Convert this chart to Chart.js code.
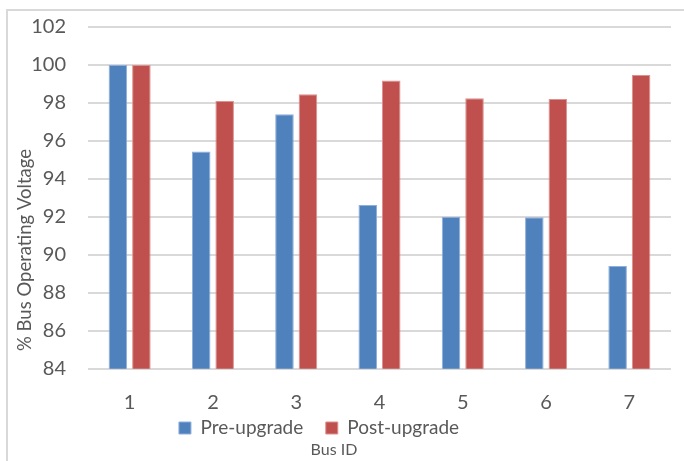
<!DOCTYPE html>
<html>
<head>
<meta charset="utf-8">
<script src="https://cdn.jsdelivr.net/npm/chart.js@4/dist/chart.umd.min.js"></script>
<style>
  html, body { margin: 0; padding: 0; background: #ffffff; overflow: hidden; }
  canvas { display: block; }
</style>
</head>
<body>
<canvas id="chart" width="684" height="461"></canvas>
<script>
// Bus voltage before and after the upgrade, in % of nominal
const busIds = ['1', '2', '3', '4', '5', '6', '7'];
const preUpgrade = [100, 95.45, 97.4, 92.62, 92.01, 91.98, 89.42];
const postUpgrade = [100, 98.1, 98.46, 99.18, 98.25, 98.21, 99.47];
const yAxisMin = 84;
const yAxisMax = 102;
const yAxisStep = 2;

const FONT = 'Lato, "Open Sans", "Liberation Sans", sans-serif';
const TEXT = '#595959';
const GRID = '#d9d9d9';

// Light frame around the whole chart
const frame = {
  id: 'frame',
  beforeDraw(chart) {
    const ctx = chart.ctx;
    ctx.save();
    ctx.strokeStyle = GRID;
    ctx.lineWidth = 2;
    ctx.strokeRect(7, 10, chart.width + 40, chart.height + 40);
    ctx.restore();
  }
};

// Vertical value-axis caption
const yCaption = {
  id: 'yCaption',
  afterDraw(chart) {
    const ctx = chart.ctx;
    ctx.save();
    ctx.translate(25, 250);
    ctx.rotate(-Math.PI / 2);
    ctx.font = '18.5px ' + FONT;
    ctx.fillStyle = TEXT;
    ctx.textAlign = 'center';
    ctx.textBaseline = 'middle';
    ctx.fillText('% Bus Operating Voltage', 0, 0);
    ctx.restore();
  }
};

// Fine placement of the legend row and the category caption under the axis
const bottomPlacement = {
  id: 'bottomPlacement',
  afterLayout(chart) {
    const lg = chart.legend;
    if (lg) {
      const dx = -20;
      lg.left += dx;
      lg.right += dx;
      lg.top = 396;
      lg.bottom = 396 + 60;
      lg.height = 60;
    }
    const tb = chart.titleBlock;
    if (tb) {
      tb.left -= 5;
      tb.right -= 5;
    }
  }
};

new Chart(document.getElementById('chart'), {
  type: 'bar',
  data: {
    labels: busIds,
    datasets: [
      {
        label: 'Pre-upgrade',
        data: preUpgrade,
        backgroundColor: '#4f81bd',
        borderColor: '#8eaedb',
        borderWidth: 1,
        categoryPercentage: 0.564,
        barPercentage: 0.79
      },
      {
        label: 'Post-upgrade',
        data: postUpgrade,
        backgroundColor: '#c0504d',
        borderColor: '#dc918f',
        borderWidth: 1,
        categoryPercentage: 0.564,
        barPercentage: 0.79
      }
    ]
  },
  options: {
    responsive: false,
    animation: false,
    devicePixelRatio: 1,
    layout: { padding: { left: 7, right: 13, top: 27, bottom: 0 } },
    scales: {
      x: {
        grid: { display: false },
        border: { display: false },
        ticks: { color: TEXT, font: { family: FONT, size: 20 }, padding: 14 },
        afterFit(scale) { scale.height = 50; }
      },
      y: {
        min: yAxisMin,
        max: yAxisMax,
        grid: {
          color: GRID,
          lineWidth: 2,
          drawTicks: true,
          tickLength: 20,
          tickColor: 'rgba(0,0,0,0)'
        },
        border: { display: false },
        ticks: {
          stepSize: yAxisStep,
          color: TEXT,
          font: { family: FONT, size: 20 },
          padding: 2
        },
        afterFit(scale) { scale.width = 81; }
      }
    },
    plugins: {
      legend: {
        position: 'bottom',
        maxHeight: 20,
        labels: {
          boxWidth: 12,
          boxHeight: 12,
          color: TEXT,
          font: { family: FONT, size: 19 },
          padding: 22.5
        }
      },
      title: {
        display: true,
        position: 'bottom',
        text: 'Bus ID',
        color: TEXT,
        font: { family: FONT, size: 16, weight: 'normal' },
        padding: { top: 1, bottom: 2 }
      },
      tooltip: { enabled: false }
    }
  },
  plugins: [frame, yCaption, bottomPlacement]
});
</script>
</body>
</html>
